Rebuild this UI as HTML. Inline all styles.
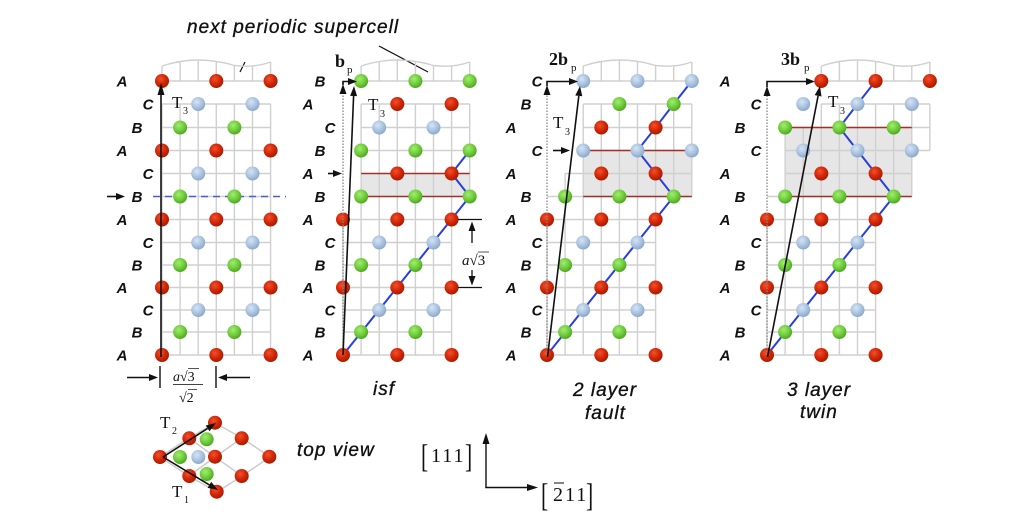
<!DOCTYPE html>
<html><head><meta charset="utf-8">
<style>
html,body{margin:0;padding:0;background:#fff;}
svg{display:block;}
.g{stroke:#d0d0d0;stroke-width:1.4;fill:none;}
.lab{font-family:"Liberation Sans",sans-serif;font-style:italic;font-weight:bold;font-size:15px;fill:#111;text-anchor:middle;}
.cap{font-family:"Liberation Sans",sans-serif;font-style:italic;font-size:19px;letter-spacing:1px;fill:#111;stroke:#111;stroke-width:0.35px;}
.ser{font-family:"Liberation Serif",serif;fill:#111;}
.ar{fill:#111;}
</style></head><body>
<svg width="1024" height="521" viewBox="0 0 1024 521" xmlns="http://www.w3.org/2000/svg">
<defs>
<radialGradient id="gR" cx="0.4" cy="0.35" r="0.7"><stop offset="0" stop-color="#f2502c"/><stop offset="0.55" stop-color="#d22606"/><stop offset="1" stop-color="#a01a00"/></radialGradient>
<radialGradient id="gG" cx="0.4" cy="0.35" r="0.7"><stop offset="0" stop-color="#a2ec72"/><stop offset="0.55" stop-color="#6fcd3a"/><stop offset="1" stop-color="#4aa020"/></radialGradient>
<radialGradient id="gB" cx="0.4" cy="0.35" r="0.7"><stop offset="0" stop-color="#d6e4f4"/><stop offset="0.55" stop-color="#aac3e0"/><stop offset="1" stop-color="#86a4c8"/></radialGradient>
<circle id="R" r="7" fill="url(#gR)"/>
<circle id="G" r="7" fill="url(#gG)"/>
<circle id="B" r="7" fill="url(#gB)"/>
<g id="cap" class="g"><path d="M0 66 Q18 60 36.2 60 T72.4 65.5 Q92 68 108.6 62"/><path d="M0 66V81 M18.1 61.5V81 M36.2 60V81 M54.3 61.4V81 M72.4 65.5V81 M90.5 65.9V81 M108.6 62V81 M0 81H108.6"/></g>
<g id="low" class="g"><path d="M0 219.5V355 M18.1 196.5V355 M36.2 196.5V355 M54.3 196.5V355 M72.4 196.5V355 M90.5 196.5V355 M108.6 196.5V355 M0 355H108.6 M0 332H108.6 M0 310H108.6 M0 287.5H108.6 M0 265H108.6 M0 242.5H108.6 M0 219.5H108.6"/></g>
<g id="lowA">
<use href="#R" x="0" y="355"/><use href="#R" x="54.3" y="355"/><use href="#R" x="108.6" y="355"/>
<use href="#G" x="18.1" y="332"/><use href="#G" x="72.4" y="332"/>
<use href="#B" x="36.2" y="310"/><use href="#B" x="90.5" y="310"/>
<use href="#R" x="0" y="287.5"/><use href="#R" x="54.3" y="287.5"/><use href="#R" x="108.6" y="287.5"/>
<use href="#G" x="18.1" y="265"/><use href="#G" x="72.4" y="265"/>
<use href="#B" x="36.2" y="242.5"/><use href="#B" x="90.5" y="242.5"/>
<use href="#R" x="0" y="219.5"/><use href="#R" x="54.3" y="219.5"/><use href="#R" x="108.6" y="219.5"/>
</g>
<g id="midA">
<use href="#G" x="18.1" y="196.5"/><use href="#G" x="72.4" y="196.5"/><use href="#G" x="126.7" y="196.5"/>
<use href="#R" x="54.3" y="173.5"/><use href="#R" x="108.6" y="173.5"/>
</g>
</defs>

<!-- title -->
<text class="cap" x="187" y="33">next periodic supercell</text>
<line x1="379" y1="46" x2="428" y2="72" stroke="#111" stroke-width="1.2"/>
<line x1="240" y1="72" x2="245" y2="62" stroke="#111" stroke-width="1.2"/>

<!-- PANEL 1 -->
<g transform="translate(162,0)">
<use href="#cap" x="0" y="0"/>
<use href="#low"/>
<path class="g" d="M0 104V219.5 M18.1 104V196.5 M36.2 104V196.5 M54.3 104V196.5 M72.4 104V196.5 M90.5 104V196.5 M108.6 104V196.5 M0 196.5H108.6 M0 173.5H108.6 M0 150.5H108.6 M0 127.5H108.6 M0 104H108.6"/>
<line x1="-9" y1="196.5" x2="124" y2="196.5" stroke="#4a5ae8" stroke-width="1.6" stroke-dasharray="7,5"/>
<use href="#lowA"/>
<use href="#G" x="18.1" y="196.5"/><use href="#G" x="72.4" y="196.5"/>
<use href="#B" x="36.2" y="173.5"/><use href="#B" x="90.5" y="173.5"/>
<use href="#R" x="0" y="150.5"/><use href="#R" x="54.3" y="150.5"/><use href="#R" x="108.6" y="150.5"/>
<use href="#G" x="18.1" y="127.5"/><use href="#G" x="72.4" y="127.5"/>
<use href="#B" x="36.2" y="104"/><use href="#B" x="90.5" y="104"/>
<use href="#R" x="0" y="81"/><use href="#R" x="54.3" y="81"/><use href="#R" x="108.6" y="81"/>
</g>
<line x1="161" y1="357" x2="161" y2="94" stroke="#111" stroke-width="1.6"/>
<polygon class="ar" points="161,83 157.5,95 164.5,95"/>
<line x1="107" y1="196.5" x2="117" y2="196.5" stroke="#111" stroke-width="1.6"/>
<polygon class="ar" points="125,196.5 116,193 116,200"/>
<text class="ser" x="172" y="108" font-size="17">T</text><text class="ser" x="183" y="114" font-size="10" fill="#444">3</text>
<!-- dimension p1 -->
<line x1="127" y1="377.5" x2="150" y2="377.5" stroke="#111" stroke-width="1.4"/>
<polygon class="ar" points="158,377.5 149,374 149,381"/>
<line x1="160" y1="366" x2="160" y2="388" stroke="#111" stroke-width="1.4"/>
<line x1="216" y1="366" x2="216" y2="388" stroke="#111" stroke-width="1.4"/>
<line x1="250" y1="377.5" x2="226" y2="377.5" stroke="#111" stroke-width="1.4"/>
<polygon class="ar" points="218,377.5 227,374 227,381"/>
<text class="ser" x="173" y="381" font-size="14" fill="#444"><tspan font-style="italic">a</tspan>√3</text>
<line x1="188" y1="368.5" x2="199" y2="368.5" stroke="#444" stroke-width="0.9"/>
<line x1="173" y1="384.5" x2="203" y2="384.5" stroke="#444" stroke-width="1"/>
<text class="ser" x="179" y="402" font-size="14" fill="#444">√2</text>
<line x1="188" y1="389.5" x2="197" y2="389.5" stroke="#444" stroke-width="0.9"/>

<!-- PANEL 2 -->
<g transform="translate(343,0)">
<rect x="18.1" y="173.5" width="108.6" height="23" fill="#e6e6e6"/>
<use href="#cap" x="18.1" y="0"/>
<use href="#low"/>
<path class="g" d="M18.1 104V196.5 M36.2 104V196.5 M54.3 104V196.5 M72.4 104V196.5 M90.5 104V196.5 M108.6 104V196.5 M126.7 104V196.5 M18.1 150.5H126.7 M18.1 127.5H126.7 M18.1 104H126.7"/>
<path d="M18.1 173.5H126.7 M18.1 196.5H126.7" stroke="#a0302a" stroke-width="1.6" fill="none"/>
<polyline points="0,355 126.7,196.5 108.6,173.5 126.7,150.5" fill="none" stroke="#2a3ee0" stroke-width="2"/>
<use href="#lowA"/><use href="#midA"/>
<use href="#G" x="18.1" y="150.5"/><use href="#G" x="72.4" y="150.5"/><use href="#G" x="126.7" y="150.5"/>
<use href="#B" x="36.2" y="127.5"/><use href="#B" x="90.5" y="127.5"/>
<use href="#R" x="54.3" y="104"/><use href="#R" x="108.6" y="104"/>
<use href="#G" x="18.1" y="81"/><use href="#G" x="72.4" y="81"/><use href="#G" x="126.7" y="81"/>
</g>
<line x1="343" y1="355" x2="343" y2="94" stroke="#888" stroke-width="1.3" stroke-dasharray="1.5,1.5"/>
<polygon class="ar" points="343,84 339.5,94 346.5,94"/>
<path d="M343 85V81.5H350" stroke="#111" stroke-width="1.6" fill="none"/>
<polygon class="ar" points="357,81.5 348,78 348,85"/>
<line x1="343" y1="355" x2="353.6" y2="96" stroke="#111" stroke-width="1.6"/>
<polygon class="ar" points="354,86 357.1,96.1 350.1,95.9"/>
<line x1="328" y1="173.5" x2="335" y2="173.5" stroke="#111" stroke-width="1.6"/>
<polygon class="ar" points="342,173.5 333,170 333,177"/>
<text class="ser" x="335" y="67" font-size="18" font-weight="bold">b</text><text class="ser" x="347" y="73" font-size="11">p</text>
<text class="ser" x="368" y="110" font-size="17">T</text><text class="ser" x="380" y="117" font-size="10" fill="#444">3</text>
<!-- dimension a sqrt3 -->
<line x1="458" y1="219.5" x2="482" y2="219.5" stroke="#111" stroke-width="1.3"/>
<line x1="458" y1="287.5" x2="482" y2="287.5" stroke="#111" stroke-width="1.3"/>
<line x1="472" y1="243" x2="472" y2="229" stroke="#111" stroke-width="1.3"/>
<polygon class="ar" points="472,221.5 468.5,231 475.5,231"/>
<line x1="472" y1="270" x2="472" y2="278" stroke="#111" stroke-width="1.3"/>
<polygon class="ar" points="472,285.5 468.5,276 475.5,276"/>
<text class="ser" x="462" y="265" font-size="15" fill="#444"><tspan font-style="italic">a</tspan>√3</text>
<line x1="478" y1="252" x2="489" y2="252" stroke="#444" stroke-width="0.9"/>

<!-- PANEL 3 -->
<g transform="translate(547,0)">
<rect x="36.2" y="150.5" width="108.6" height="46" fill="#e6e6e6"/>
<use href="#cap" x="36.2" y="0"/>
<use href="#low"/>
<path class="g" d="M0 196.5H144.8 M18.1 173.5H144.8 M18.1 173.5V196.5 M36.2 104V196.5 M54.3 104V196.5 M72.4 104V196.5 M90.5 104V196.5 M108.6 104V196.5 M126.7 104V196.5 M144.8 104V196.5 M36.2 150.5H144.8 M36.2 127.5H144.8 M36.2 104H144.8"/>
<path d="M36.2 150.5H144.8 M36.2 196.5H144.8" stroke="#a0302a" stroke-width="1.6" fill="none"/>
<polyline points="0,355 126.7,196.5 108.6,173.5 90.5,150.5 108.6,127.5 126.7,104 144.8,81" fill="none" stroke="#2a3ee0" stroke-width="2"/>
<use href="#lowA"/><use href="#midA"/>
<use href="#B" x="36.2" y="150.5"/><use href="#B" x="90.5" y="150.5"/><use href="#B" x="144.8" y="150.5"/>
<use href="#R" x="54.3" y="127.5"/><use href="#R" x="108.6" y="127.5"/>
<use href="#G" x="72.4" y="104"/><use href="#G" x="126.7" y="104"/>
<use href="#B" x="36.2" y="81"/><use href="#B" x="90.5" y="81"/><use href="#B" x="144.8" y="81"/>
</g>
<line x1="547" y1="355" x2="547" y2="95" stroke="#888" stroke-width="1.3" stroke-dasharray="1.5,1.5"/>
<polygon class="ar" points="547,85 543.5,95 550.5,95"/>
<path d="M547 86V81.5H570" stroke="#111" stroke-width="1.6" fill="none"/>
<polygon class="ar" points="578,81.5 569,78 569,85"/>
<line x1="547.5" y1="357" x2="578.8" y2="96" stroke="#111" stroke-width="1.6"/>
<polygon class="ar" points="580,86 582.3,96.3 575.3,95.5"/>
<line x1="553" y1="150.5" x2="563" y2="150.5" stroke="#111" stroke-width="1.6"/>
<polygon class="ar" points="570,150.5 561,147 561,154"/>
<text class="ser" x="549" y="65" font-size="18" font-weight="bold">2b</text><text class="ser" x="571" y="71" font-size="11">p</text>
<text class="ser" x="553" y="128" font-size="17">T</text><text class="ser" x="565" y="135" font-size="10" fill="#444">3</text>

<!-- PANEL 4 -->
<g transform="translate(767,0)">
<rect x="18.1" y="127.5" width="126.7" height="69" fill="#e6e6e6"/>
<use href="#cap" x="54.3" y="0"/>
<use href="#low"/>
<path class="g" d="M0 196.5H144.8 M18.1 173.5H144.8 M18.1 150.5H162.9 M18.1 127.5H162.9 M54.3 104H162.9 M18.1 127.5V196.5 M36.2 127.5V196.5 M54.3 104V196.5 M72.4 104V196.5 M90.5 104V196.5 M108.6 104V196.5 M126.7 104V196.5 M144.8 104V196.5 M162.9 104V150.5"/>
<path d="M18.1 127.5H144.8 M18.1 196.5H144.8" stroke="#a0302a" stroke-width="1.6" fill="none"/>
<polyline points="0,355 126.7,196.5 108.6,173.5 90.5,150.5 72.4,127.5 90.5,104 108.6,81" fill="none" stroke="#2a3ee0" stroke-width="2"/>
<use href="#lowA"/><use href="#midA"/>
<use href="#B" x="36.2" y="150.5"/><use href="#B" x="90.5" y="150.5"/><use href="#B" x="144.8" y="150.5"/>
<use href="#G" x="18.1" y="127.5"/><use href="#G" x="72.4" y="127.5"/><use href="#G" x="126.7" y="127.5"/>
<use href="#B" x="36.2" y="104"/><use href="#B" x="90.5" y="104"/><use href="#B" x="144.8" y="104"/>
<use href="#R" x="54.3" y="81"/><use href="#R" x="108.6" y="81"/><use href="#R" x="162.9" y="81"/>
</g>
<line x1="767" y1="355" x2="767" y2="96" stroke="#888" stroke-width="1.3" stroke-dasharray="1.5,1.5"/>
<polygon class="ar" points="767,86 763.5,96 770.5,96"/>
<path d="M767 87V81.5H807" stroke="#111" stroke-width="1.6" fill="none"/>
<polygon class="ar" points="815,81.5 806,78 806,85"/>
<line x1="767.5" y1="357" x2="818.1" y2="95.8" stroke="#111" stroke-width="1.6"/>
<polygon class="ar" points="820,86 821.5,96.5 814.7,95.1"/>
<text class="ser" x="781" y="65" font-size="18" font-weight="bold">3b</text><text class="ser" x="804" y="71" font-size="11">p</text>
<text class="ser" x="828" y="107" font-size="17">T</text><text class="ser" x="840" y="114" font-size="10" fill="#444">3</text>

<!-- layer labels -->
<g class="lab">
<text x="122" y="360.5">A</text><text x="137" y="337.5">B</text><text x="148" y="315.5">C</text><text x="122" y="293">A</text><text x="137" y="270.5">B</text><text x="148" y="248">C</text><text x="122" y="225">A</text><text x="137" y="202">B</text><text x="148" y="179">C</text><text x="122" y="156">A</text><text x="137" y="133">B</text><text x="148" y="109.5">C</text><text x="122" y="86.5">A</text>
<text x="308" y="360.5">A</text><text x="320" y="337.5">B</text><text x="330" y="315.5">C</text><text x="308" y="293">A</text><text x="320" y="270.5">B</text><text x="330" y="248">C</text><text x="308" y="225">A</text><text x="320" y="202">B</text><text x="308" y="179">A</text><text x="320" y="156">B</text><text x="330" y="133">C</text><text x="308" y="109.5">A</text><text x="320" y="86.5">B</text>
<text x="511" y="360.5">A</text><text x="526" y="337.5">B</text><text x="537" y="315.5">C</text><text x="511" y="293">A</text><text x="526" y="270.5">B</text><text x="537" y="248">C</text><text x="511" y="225">A</text><text x="526" y="202">B</text><text x="511" y="179">A</text><text x="537" y="156">C</text><text x="511" y="133">A</text><text x="526" y="109.5">B</text><text x="537" y="86.5">C</text>
<text x="725" y="360.5">A</text><text x="740" y="337.5">B</text><text x="756" y="315.5">C</text><text x="725" y="293">A</text><text x="740" y="270.5">B</text><text x="756" y="248">C</text><text x="725" y="225">A</text><text x="740" y="202">B</text><text x="725" y="179">A</text><text x="756" y="156">C</text><text x="740" y="133">B</text><text x="756" y="109.5">C</text><text x="725" y="86.5">A</text>
</g>

<!-- captions -->
<text class="cap" x="373" y="395">isf</text>
<text class="cap" x="573" y="396">2 layer</text>
<text class="cap" x="585" y="419">fault</text>
<text class="cap" x="787" y="396">3 layer</text>
<text class="cap" x="800" y="418">twin</text>
<text class="cap" x="297" y="456">top view</text>

<!-- top view -->
<path d="M160 457L189 476L217 492 M189 438L215 457L242 476 M215 423L242 438L270 457 M160 457L189 438L215 423 M189 476L215 457L242 438 M217 492L242 476L270 457" stroke="#cccccc" stroke-width="1.5" fill="none"/>
<use href="#R" x="160" y="457"/><use href="#R" x="189.3" y="438.3"/><use href="#R" x="215" y="422.7"/>
<use href="#R" x="241.7" y="438.3"/><use href="#R" x="269.3" y="456.7"/><use href="#R" x="215" y="456.7"/>
<use href="#R" x="189.3" y="476"/><use href="#R" x="241.7" y="476"/><use href="#R" x="216.7" y="491.7"/>
<use href="#G" x="180" y="457"/><use href="#G" x="206.7" y="439.3"/><use href="#G" x="206.7" y="474"/>
<use href="#B" x="198.3" y="457"/>
<line x1="163" y1="457" x2="207.6" y2="428.4" stroke="#111" stroke-width="1.6"/>
<polygon class="ar" points="216,423 209.5,431.3 205.7,425.5"/>
<line x1="163" y1="457" x2="209.4" y2="484.9" stroke="#111" stroke-width="1.6"/>
<polygon class="ar" points="218,490 207.6,487.9 211.2,481.9"/>
<text class="ser" x="160" y="428" font-size="17">T</text><text class="ser" x="172" y="434" font-size="10" fill="#444">2</text>
<text class="ser" x="172" y="497" font-size="17">T</text><text class="ser" x="184" y="503" font-size="10" fill="#444">1</text>

<!-- axes -->
<line x1="486" y1="488" x2="486" y2="443" stroke="#111" stroke-width="1.4"/>
<polygon class="ar" points="486,433 482.5,444 489.5,444"/>
<line x1="485.3" y1="487.5" x2="528" y2="487.5" stroke="#111" stroke-width="1.4"/>
<polygon class="ar" points="538,487.5 527,484 527,491"/>
<text class="ser" transform="translate(421,467) scale(0.9,1.35)" font-size="24" fill="#333">[</text>
<text class="ser" x="431" y="462" font-size="20" letter-spacing="2" fill="#333">111</text>
<text class="ser" transform="translate(465,467) scale(0.9,1.35)" font-size="24" fill="#333">]</text>
<text class="ser" transform="translate(541,506) scale(0.9,1.35)" font-size="24" fill="#333">[</text>
<text class="ser" x="553" y="501" font-size="20" letter-spacing="2" fill="#333">211</text>
<line x1="554" y1="483" x2="564" y2="483" stroke="#333" stroke-width="1.2"/>
<text class="ser" transform="translate(586,506) scale(0.9,1.35)" font-size="24" fill="#333">]</text>
</svg>
</body></html>
